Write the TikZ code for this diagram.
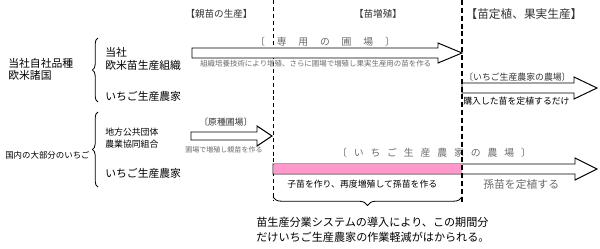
\documentclass[tikz,border=0pt]{standalone}
\usepackage{fontspec}
\setmainfont{Noto Sans CJK JP}
\usetikzlibrary{positioning,decorations.pathreplacing}

\definecolor{grigio}{gray}{0.42}
\definecolor{rosa}{HTML}{FF99CC}
\newcommand{\largo}{\hspace{1.2em}}
\newcommand{\medio}{\hspace{0.7em}}

\begin{document}
\begin{tikzpicture}[x=0.025cm, y=-0.025cm, inner sep=0pt,
	testo/.style={font=\fontsize{7.7}{9}\selectfont},
	minore/.style={font=\fontsize{6.3}{8}\selectfont},
	piccolo/.style={font=\fontsize{5.3}{6}\selectfont, text=grigio},
	titolo/.style={font=\fontsize{6.8}{8}\selectfont, text=black!80},
	freccia/.style={draw=black, line width=0.7pt, fill=white},
	graffa/.style={decorate, decoration={brace, amplitude=4pt}, line width=0.6pt}]
	
	\useasboundingbox (0,0) rectangle (600,249);
	
	% Linee tratteggiate di separazione
	\draw[line width=0.6pt, dash pattern=on 2.8pt off 2.1pt] (273,0) -- (273,200);
	
	% Titoli delle fasi
	\node[titolo] (fase1) at (219,14) {【親苗の生産】};
	\node[titolo] (fase2) at (378,14) {【苗増殖】};
	\node[titolo, font=\fontsize{8.3}{9}\selectfont] (fase3) at (524,14) {【苗定植、果実生産】};
	
	% Colonna di sinistra
	\node[testo, anchor=west] (propri1) at (8,63) {当社自社品種};
	\node[testo, anchor=west] (propri2) at (8,75) {欧米諸国};
	\node[minore, font=\fontsize{6}{8}\selectfont, anchor=west] (nazion) at (5,155) {国内の大部分のいちご};
	
	% Graffe e soggetti
	\draw[graffa] (98,102) -- (98,38);
	\draw[graffa] (98,187) -- (98,112);
	\node[testo, anchor=west] (societa) at (105,52) {当社};
	\node[testo, anchor=west] (organiz) at (105,65) {欧米苗生産組織};
	\node[testo, anchor=west] (agric1) at (105,96) {いちご生産農家};
	\node[minore, anchor=west] (ente) at (105,132) {地方公共団体};
	\node[minore, anchor=west] (coop) at (105,144) {農業協同組合};
	\node[testo, anchor=west] (agric2) at (105,173) {いちご生産農家};
	
	% Freccia 1: campo dedicato (192 - 462)
	\draw[freccia] (192,48) -- (438,48) -- (438,43) -- (462,53) -- (438,63) -- (438,58) -- (192,58) -- cycle;
	\node[titolo, text=grigio, font=\fontsize{7}{8}\selectfont] (campo1) at (325,42)
		{〔\largo 専\largo 用\largo の\largo 圃\largo 場\largo 〕};
	\node[piccolo, anchor=west] (nota1) at (200,64) {組織培養技術により増殖、さらに圃場で増殖し果実生産用の苗を作る};
	
	% Freccia 2: campo del produttore (462 - 597)
	\draw[freccia] (462,83) -- (574,83) -- (574,77) -- (597,88) -- (574,99) -- (574,93) -- (462,93) -- cycle;
	\node[minore, anchor=west, text=black!80] (campo2) at (464,77) {〔いちご生産農家の農場〕};
	\node[minore, anchor=west] (nota2) at (463,101) {購入した苗を定植するだけ};
	
	% Freccia 3: campo del seme originale (191 - 272)
	\draw[freccia] (191,132) -- (257,132) -- (257,126) -- (272,136) -- (257,146) -- (257,140) -- (191,140) -- cycle;
	\node[minore, anchor=west, text=black!80] (campo3) at (199,122) {〔原種圃場〕};
	\node[piccolo, font=\fontsize{5}{6}\selectfont, anchor=west] (nota3) at (185,150) {圃場で増殖し親苗を作る};
	
	% Freccia 4: campo del produttore, lunga (273 - 597)
	\draw[freccia] (273,164) -- (575,164) -- (575,158) -- (597,169) -- (575,180) -- (575,174) -- (273,174) -- cycle;
	\fill[rosa] (273.5,164.5) rectangle (462,173.5);
	\node[titolo, text=grigio, font=\fontsize{7}{8}\selectfont] (campo4) at (434,153)
		{〔\medio い\medio ち\medio ご\medio 生\medio 産\medio 農\medio 家\medio の\medio 農\medio 場\medio 〕};
	\node[minore, anchor=west] (nota4) at (287,184) {子苗を作り、再度増殖して孫苗を作る};
	\node[testo, anchor=west, text=grigio] (nota5) at (483,184) {孫苗を定植する};
	
	% Linea tratteggiata spessa
	\draw[line width=1.4pt, dash pattern=on 3.5pt off 2.1pt] (462,0) -- (462,202);
	
	% Graffa inferiore e conclusione
	\draw[graffa, decoration={mirror, amplitude=6pt}] (273,197) -- (462,197);
	\node[testo, font=\fontsize{7.9}{9}\selectfont, anchor=west] (concl1) at (256,222) {苗生産分業システムの導入により、この期間分};
	\node[testo, font=\fontsize{7.9}{9}\selectfont, anchor=west] (concl2) at (256,237) {だけいちご生産農家の作業軽減がはかられる。};
	
\end{tikzpicture}
\end{document}
